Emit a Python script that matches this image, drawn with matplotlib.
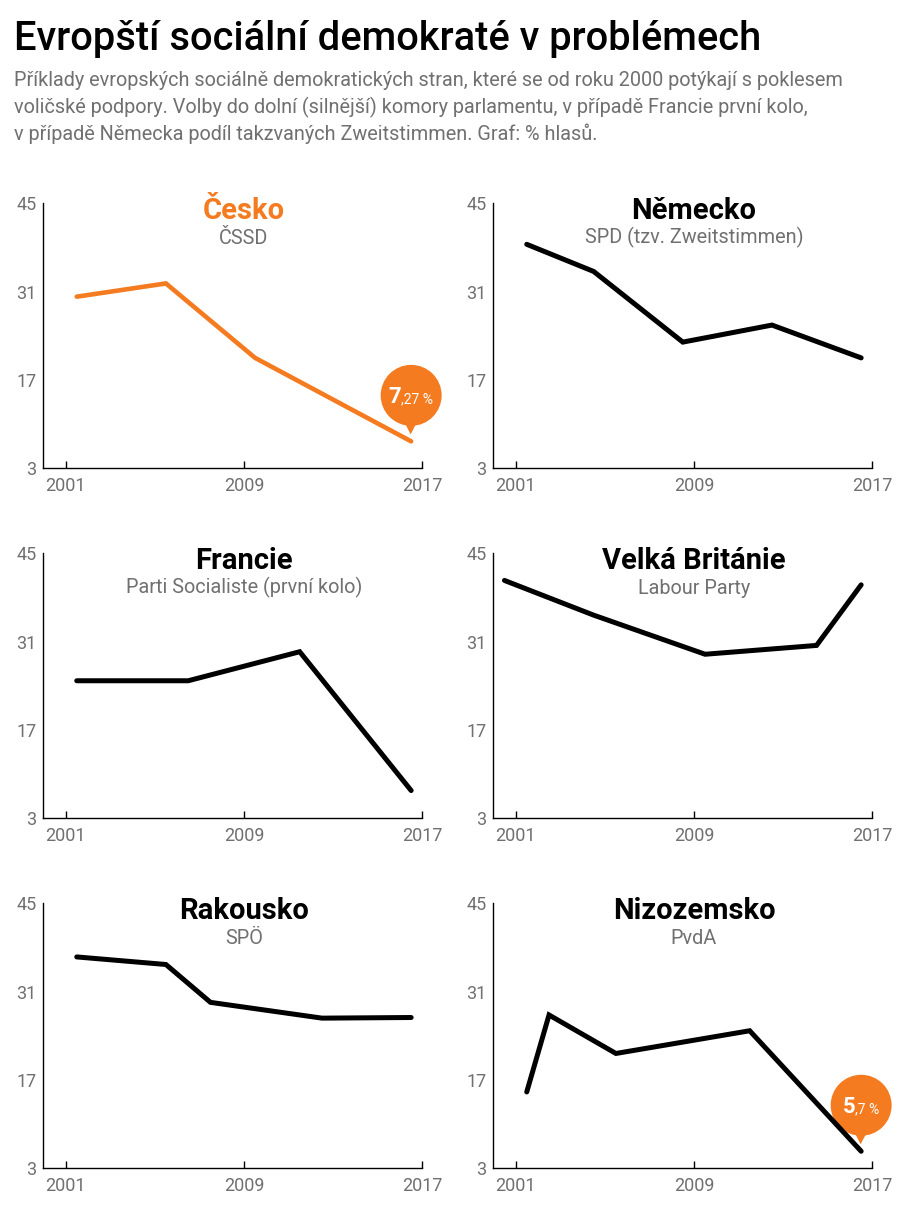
import numpy as np
import matplotlib
matplotlib.use("Agg")
import matplotlib.pyplot as plt
from matplotlib.patches import Circle, Polygon
from matplotlib.transforms import ScaledTranslation

plt.rcParams['font.family'] = ['Roboto', 'DejaVu Sans']

ORANZOVA = '#f47b20'
SEDA = '#707070'

nadpis = 'Evropští sociální demokraté v problémech'
podnadpis = [
    'Příklady evropských sociálně demokratických stran, které se od roku 2000 potýkají s poklesem',
    'voličské podpory. Volby do dolní (silnější) komory parlamentu, v případě Francie první kolo,',
    'v případě Německa podíl takzvaných Zweitstimmen. Graf: % hlasů.',
]

zeme = ['Česko', 'Německo', 'Francie', 'Velká Británie', 'Rakousko', 'Nizozemsko']
strany = ['ČSSD', 'SPD (tzv. Zweitstimmen)', 'Parti Socialiste (první kolo)',
          'Labour Party', 'SPÖ', 'PvdA']

# volebni roky a podil hlasu v %
cz_roky = [2002, 2006, 2010, 2017]
cz_hlasy = [30.2, 32.3, 20.5, 7.27]
de_roky = [2002, 2005, 2009, 2013, 2017]
de_hlasy = [38.5, 34.2, 23.0, 25.7, 20.5]
fr_roky = [2002, 2007, 2012, 2017]
fr_hlasy = [24.8, 24.8, 29.4, 7.4]
uk_roky = [2001, 2005, 2010, 2015, 2017]
uk_hlasy = [40.7, 35.2, 29.0, 30.4, 40.0]
at_roky = [2002, 2006, 2008, 2013, 2017]
at_hlasy = [36.5, 35.3, 29.3, 26.8, 26.9]
nl_roky = [2002, 2003, 2006, 2012, 2017]
nl_hlasy = [15.1, 27.3, 21.2, 24.8, 5.7]

roky = [cz_roky, de_roky, fr_roky, uk_roky, at_roky, nl_roky]
hlasy = [cz_hlasy, de_hlasy, fr_hlasy, uk_hlasy, at_hlasy, nl_hlasy]

osa_y = [3, 17, 31, 45]
osa_x = [2001, 2009, 2017]

# popisky v bublinach (cela cast, desetinna cast)
bubliny = {0: ('7', ',27 %'), 5: ('5', ',7 %')}

W, H = 900, 1217
fig = plt.figure(figsize=(W / 100, H / 100), dpi=100)

fig.text(14 / W, 1 - 50 / H, nadpis, fontsize=28.7, weight='medium', va='baseline')
for i, radek in enumerate(podnadpis):
    fig.text(14 / W, 1 - (86 + 27 * i) / H, radek, fontsize=14.3, color=SEDA, va='baseline')

lefts = [43.3, 493.3]
bottoms = [468.3, 818.3, 1168.3]

popisky_bublin = []


def bublina(ax, x, y, velke, male):
    tr = fig.dpi_scale_trans + ScaledTranslation(x, y, ax.transData)
    d, r = 0.46, 0.305
    ax.add_patch(Circle((0, d), r, transform=tr, color=ORANZOVA, zorder=5, clip_on=False, lw=0))
    ax.add_patch(Polygon([(-0.075, d - r + 0.05), (0.065, d - r + 0.05), (-0.005, 0.07)],
                         transform=tr, color=ORANZOVA, zorder=5, clip_on=False, lw=0))
    t1 = ax.text(0, d - 0.08, velke, transform=tr, ha='right', va='baseline',
                 fontsize=16, weight='bold', color='white', zorder=7)
    t2 = ax.text(0, d - 0.08, male, transform=tr, ha='left', va='baseline',
                 fontsize=10, color='white', zorder=7)
    popisky_bublin.append((t1, t2))


for i in range(6):
    r, c = divmod(i, 2)
    ax = fig.add_axes([lefts[c] / W, 1 - bottoms[r] / H, 379 / W, 265 / H])
    barva = ORANZOVA if i == 0 else 'black'
    # body jsou v puvodnim grafu posunute o pul roku doleva
    x = np.array(roky[i]) - 0.5
    ax.plot(x, hlasy[i], color=barva, lw=3.6 if i else 3.3,
            solid_capstyle='round', solid_joinstyle='miter', zorder=6, clip_on=False)
    ax.set_xlim(2000, 2017)
    ax.set_ylim(3, 45)
    ax.set_xticks(osa_x)
    ax.set_yticks(osa_y)
    for s in ['top', 'right']:
        ax.spines[s].set_visible(False)
    for s in ['left', 'bottom']:
        ax.spines[s].set_linewidth(1.0)
    ax.tick_params(axis='x', direction='in', length=5, width=1.0, pad=6.5,
                   labelsize=13, labelcolor=SEDA)
    ax.tick_params(axis='y', length=0, pad=5, labelsize=13, labelcolor=SEDA)

    xt = ax.get_xaxis_transform()
    ax.text(2009, 0.941, zeme[i], transform=xt, ha='center', va='baseline',
            fontsize=21, weight='bold', color=barva)
    ax.text(2009, 0.848, strany[i], transform=xt, ha='center', va='baseline',
            fontsize=14.3, color=SEDA)

    if i in bubliny:
        bublina(ax, x[-1], hlasy[i][-1], *bubliny[i])

# vycentrovani textu v bublinach
rend = fig.canvas.get_renderer()
for t1, t2 in popisky_bublin:
    w1 = t1.get_window_extent(rend).width / fig.dpi
    w2 = t2.get_window_extent(rend).width / fig.dpi
    sx = -(w1 + w2) / 2 + w1
    t1.set_x(sx)
    t2.set_x(sx)

fig.savefig('out.png', dpi=100, facecolor='white')
